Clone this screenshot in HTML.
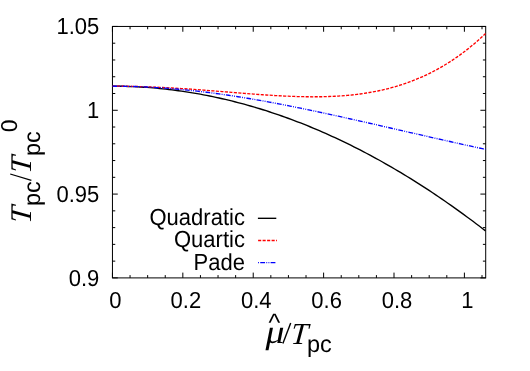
<!DOCTYPE html>
<html><head><meta charset="utf-8"><style>
html,body{margin:0;padding:0;background:#fff;}
svg{display:block;will-change:transform}
text{font-family:"Liberation Sans",sans-serif;font-size:22px;fill:#000;text-rendering:geometricPrecision}
.it{font-family:"Liberation Serif",serif;font-style:italic;font-size:30.5px}
</style></head><body>
<svg width="530" height="371" viewBox="0 0 530 371">
<rect width="530" height="371" fill="#fff"/>
<g stroke="#000" stroke-width="1" fill="none"><line x1="112.45" y1="277.9" x2="112.45" y2="272.59999999999997"/><line x1="112.45" y1="26.45" x2="112.45" y2="31.75"/><line x1="130.05" y1="277.9" x2="130.05" y2="275.09999999999997"/><line x1="130.05" y1="26.45" x2="130.05" y2="29.25"/><line x1="147.65" y1="277.9" x2="147.65" y2="275.09999999999997"/><line x1="147.65" y1="26.45" x2="147.65" y2="29.25"/><line x1="165.24" y1="277.9" x2="165.24" y2="275.09999999999997"/><line x1="165.24" y1="26.45" x2="165.24" y2="29.25"/><line x1="182.84" y1="277.9" x2="182.84" y2="272.59999999999997"/><line x1="182.84" y1="26.45" x2="182.84" y2="31.75"/><line x1="200.44" y1="277.9" x2="200.44" y2="275.09999999999997"/><line x1="200.44" y1="26.45" x2="200.44" y2="29.25"/><line x1="218.04" y1="277.9" x2="218.04" y2="275.09999999999997"/><line x1="218.04" y1="26.45" x2="218.04" y2="29.25"/><line x1="235.63" y1="277.9" x2="235.63" y2="275.09999999999997"/><line x1="235.63" y1="26.45" x2="235.63" y2="29.25"/><line x1="253.23" y1="277.9" x2="253.23" y2="272.59999999999997"/><line x1="253.23" y1="26.45" x2="253.23" y2="31.75"/><line x1="270.83" y1="277.9" x2="270.83" y2="275.09999999999997"/><line x1="270.83" y1="26.45" x2="270.83" y2="29.25"/><line x1="288.43" y1="277.9" x2="288.43" y2="275.09999999999997"/><line x1="288.43" y1="26.45" x2="288.43" y2="29.25"/><line x1="306.02" y1="277.9" x2="306.02" y2="275.09999999999997"/><line x1="306.02" y1="26.45" x2="306.02" y2="29.25"/><line x1="323.62" y1="277.9" x2="323.62" y2="272.59999999999997"/><line x1="323.62" y1="26.45" x2="323.62" y2="31.75"/><line x1="341.22" y1="277.9" x2="341.22" y2="275.09999999999997"/><line x1="341.22" y1="26.45" x2="341.22" y2="29.25"/><line x1="358.81" y1="277.9" x2="358.81" y2="275.09999999999997"/><line x1="358.81" y1="26.45" x2="358.81" y2="29.25"/><line x1="376.41" y1="277.9" x2="376.41" y2="275.09999999999997"/><line x1="376.41" y1="26.45" x2="376.41" y2="29.25"/><line x1="394.01" y1="277.9" x2="394.01" y2="272.59999999999997"/><line x1="394.01" y1="26.45" x2="394.01" y2="31.75"/><line x1="411.61" y1="277.9" x2="411.61" y2="275.09999999999997"/><line x1="411.61" y1="26.45" x2="411.61" y2="29.25"/><line x1="429.20" y1="277.9" x2="429.20" y2="275.09999999999997"/><line x1="429.20" y1="26.45" x2="429.20" y2="29.25"/><line x1="446.80" y1="277.9" x2="446.80" y2="275.09999999999997"/><line x1="446.80" y1="26.45" x2="446.80" y2="29.25"/><line x1="464.40" y1="277.9" x2="464.40" y2="272.59999999999997"/><line x1="464.40" y1="26.45" x2="464.40" y2="31.75"/><line x1="482.00" y1="277.9" x2="482.00" y2="275.09999999999997"/><line x1="482.00" y1="26.45" x2="482.00" y2="29.25"/><line x1="112.45" y1="277.90" x2="117.75" y2="277.90"/><line x1="485.7" y1="277.90" x2="480.4" y2="277.90"/><line x1="112.45" y1="261.14" x2="115.25" y2="261.14"/><line x1="485.7" y1="261.14" x2="482.9" y2="261.14"/><line x1="112.45" y1="244.37" x2="115.25" y2="244.37"/><line x1="485.7" y1="244.37" x2="482.9" y2="244.37"/><line x1="112.45" y1="227.61" x2="115.25" y2="227.61"/><line x1="485.7" y1="227.61" x2="482.9" y2="227.61"/><line x1="112.45" y1="210.85" x2="115.25" y2="210.85"/><line x1="485.7" y1="210.85" x2="482.9" y2="210.85"/><line x1="112.45" y1="194.08" x2="117.75" y2="194.08"/><line x1="485.7" y1="194.08" x2="480.4" y2="194.08"/><line x1="112.45" y1="177.32" x2="115.25" y2="177.32"/><line x1="485.7" y1="177.32" x2="482.9" y2="177.32"/><line x1="112.45" y1="160.56" x2="115.25" y2="160.56"/><line x1="485.7" y1="160.56" x2="482.9" y2="160.56"/><line x1="112.45" y1="143.79" x2="115.25" y2="143.79"/><line x1="485.7" y1="143.79" x2="482.9" y2="143.79"/><line x1="112.45" y1="127.03" x2="115.25" y2="127.03"/><line x1="485.7" y1="127.03" x2="482.9" y2="127.03"/><line x1="112.45" y1="110.27" x2="117.75" y2="110.27"/><line x1="485.7" y1="110.27" x2="480.4" y2="110.27"/><line x1="112.45" y1="93.50" x2="115.25" y2="93.50"/><line x1="485.7" y1="93.50" x2="482.9" y2="93.50"/><line x1="112.45" y1="76.74" x2="115.25" y2="76.74"/><line x1="485.7" y1="76.74" x2="482.9" y2="76.74"/><line x1="112.45" y1="59.98" x2="115.25" y2="59.98"/><line x1="485.7" y1="59.98" x2="482.9" y2="59.98"/><line x1="112.45" y1="43.21" x2="115.25" y2="43.21"/><line x1="485.7" y1="43.21" x2="482.9" y2="43.21"/><line x1="112.45" y1="26.45" x2="117.75" y2="26.45"/><line x1="485.7" y1="26.45" x2="480.4" y2="26.45"/></g>
<rect x="112.45" y="26.45" width="373.25" height="251.45" fill="none" stroke="#000" stroke-width="1.0"/>
<path d="M112.50,86.20 L115.63,86.21 L118.77,86.24 L121.90,86.29 L125.04,86.37 L128.17,86.46 L131.31,86.57 L134.44,86.70 L137.58,86.86 L140.71,87.03 L143.85,87.22 L146.98,87.44 L150.11,87.67 L153.25,87.93 L156.38,88.20 L159.52,88.50 L162.65,88.82 L165.79,89.15 L168.92,89.51 L172.06,89.89 L175.19,90.29 L178.33,90.71 L181.46,91.15 L184.60,91.61 L187.73,92.09 L190.86,92.59 L194.00,93.11 L197.13,93.65 L200.27,94.21 L203.40,94.79 L206.54,95.40 L209.67,96.02 L212.81,96.66 L215.94,97.33 L219.08,98.01 L222.21,98.72 L225.34,99.44 L228.48,100.19 L231.61,100.96 L234.75,101.74 L237.88,102.55 L241.02,103.38 L244.15,104.22 L247.29,105.09 L250.42,105.98 L253.56,106.89 L256.69,107.82 L259.82,108.77 L262.96,109.74 L266.09,110.73 L269.23,111.74 L272.36,112.78 L275.50,113.83 L278.63,114.90 L281.77,116.00 L284.90,117.11 L288.04,118.24 L291.17,119.40 L294.31,120.57 L297.44,121.77 L300.57,122.98 L303.71,124.22 L306.84,125.48 L309.98,126.75 L313.11,128.05 L316.25,129.37 L319.38,130.71 L322.52,132.07 L325.65,133.45 L328.79,134.85 L331.92,136.27 L335.05,137.71 L338.19,139.17 L341.32,140.65 L344.46,142.15 L347.59,143.67 L350.73,145.22 L353.86,146.78 L357.00,148.36 L360.13,149.97 L363.27,151.59 L366.40,153.24 L369.53,154.90 L372.67,156.59 L375.80,158.29 L378.94,160.02 L382.07,161.77 L385.21,163.54 L388.34,165.32 L391.48,167.13 L394.61,168.96 L397.75,170.81 L400.88,172.68 L404.02,174.57 L407.15,176.48 L410.28,178.41 L413.42,180.36 L416.55,182.34 L419.69,184.33 L422.82,186.34 L425.96,188.37 L429.09,190.43 L432.23,192.50 L435.36,194.60 L438.50,196.71 L441.63,198.85 L444.76,201.00 L447.90,203.18 L451.03,205.38 L454.17,207.59 L457.30,209.83 L460.44,212.09 L463.57,214.37 L466.71,216.67 L469.84,218.99 L472.98,221.32 L476.11,223.69 L479.24,226.07 L482.38,228.47 L485.51,230.89" fill="none" stroke="#000" stroke-width="1.35"/>
<path d="M112.50,86.20 L115.63,86.21 L118.77,86.22 L121.90,86.25 L125.04,86.28 L128.17,86.33 L131.31,86.39 L134.44,86.45 L137.58,86.53 L140.71,86.61 L143.85,86.71 L146.98,86.82 L150.11,86.93 L153.25,87.05 L156.38,87.19 L159.52,87.33 L162.65,87.48 L165.79,87.64 L168.92,87.81 L172.06,87.98 L175.19,88.16 L178.33,88.35 L181.46,88.55 L184.60,88.75 L187.73,88.96 L190.86,89.18 L194.00,89.40 L197.13,89.62 L200.27,89.86 L203.40,90.09 L206.54,90.33 L209.67,90.57 L212.81,90.82 L215.94,91.07 L219.08,91.32 L222.21,91.57 L225.34,91.83 L228.48,92.08 L231.61,92.34 L234.75,92.59 L237.88,92.84 L241.02,93.09 L244.15,93.34 L247.29,93.59 L250.42,93.83 L253.56,94.07 L256.69,94.30 L259.82,94.53 L262.96,94.75 L266.09,94.96 L269.23,95.17 L272.36,95.36 L275.50,95.55 L278.63,95.73 L281.77,95.90 L284.90,96.06 L288.04,96.20 L291.17,96.33 L294.31,96.45 L297.44,96.55 L300.57,96.63 L303.71,96.70 L306.84,96.75 L309.98,96.78 L313.11,96.80 L316.25,96.79 L319.38,96.76 L322.52,96.71 L325.65,96.63 L328.79,96.53 L331.92,96.41 L335.05,96.26 L338.19,96.08 L341.32,95.87 L344.46,95.63 L347.59,95.36 L350.73,95.06 L353.86,94.73 L357.00,94.36 L360.13,93.96 L363.27,93.52 L366.40,93.04 L369.53,92.53 L372.67,91.97 L375.80,91.37 L378.94,90.73 L382.07,90.05 L385.21,89.31 L388.34,88.54 L391.48,87.71 L394.61,86.84 L397.75,85.91 L400.88,84.94 L404.02,83.91 L407.15,82.82 L410.28,81.68 L413.42,80.49 L416.55,79.23 L419.69,77.91 L422.82,76.53 L425.96,75.09 L429.09,73.58 L432.23,72.01 L435.36,70.37 L438.50,68.65 L441.63,66.87 L444.76,65.02 L447.90,63.09 L451.03,61.08 L454.17,59.00 L457.30,56.84 L460.44,54.60 L463.57,52.27 L466.71,49.87 L469.84,47.37 L472.98,44.79 L476.11,42.12 L479.24,39.36 L482.38,36.51 L485.51,33.56" fill="none" stroke="#f00" stroke-width="1.35" stroke-dasharray="3.1,1.4"/>
<path d="M112.50,86.20 L115.63,86.21 L118.77,86.23 L121.90,86.26 L125.04,86.31 L128.17,86.38 L131.31,86.45 L134.44,86.54 L137.58,86.65 L140.71,86.77 L143.85,86.90 L146.98,87.04 L150.11,87.20 L153.25,87.37 L156.38,87.56 L159.52,87.76 L162.65,87.97 L165.79,88.20 L168.92,88.44 L172.06,88.69 L175.19,88.95 L178.33,89.23 L181.46,89.52 L184.60,89.82 L187.73,90.14 L190.86,90.46 L194.00,90.80 L197.13,91.15 L200.27,91.51 L203.40,91.89 L206.54,92.27 L209.67,92.67 L212.81,93.08 L215.94,93.49 L219.08,93.92 L222.21,94.36 L225.34,94.81 L228.48,95.27 L231.61,95.74 L234.75,96.22 L237.88,96.71 L241.02,97.21 L244.15,97.72 L247.29,98.23 L250.42,98.76 L253.56,99.29 L256.69,99.83 L259.82,100.38 L262.96,100.94 L266.09,101.51 L269.23,102.08 L272.36,102.66 L275.50,103.25 L278.63,103.85 L281.77,104.45 L284.90,105.06 L288.04,105.67 L291.17,106.29 L294.31,106.92 L297.44,107.55 L300.57,108.19 L303.71,108.84 L306.84,109.48 L309.98,110.14 L313.11,110.80 L316.25,111.46 L319.38,112.12 L322.52,112.80 L325.65,113.47 L328.79,114.15 L331.92,114.83 L335.05,115.52 L338.19,116.21 L341.32,116.90 L344.46,117.59 L347.59,118.29 L350.73,118.99 L353.86,119.69 L357.00,120.40 L360.13,121.10 L363.27,121.81 L366.40,122.52 L369.53,123.23 L372.67,123.94 L375.80,124.66 L378.94,125.37 L382.07,126.09 L385.21,126.80 L388.34,127.52 L391.48,128.24 L394.61,128.95 L397.75,129.67 L400.88,130.39 L404.02,131.11 L407.15,131.82 L410.28,132.54 L413.42,133.26 L416.55,133.97 L419.69,134.69 L422.82,135.40 L425.96,136.12 L429.09,136.83 L432.23,137.54 L435.36,138.25 L438.50,138.96 L441.63,139.67 L444.76,140.37 L447.90,141.08 L451.03,141.78 L454.17,142.48 L457.30,143.18 L460.44,143.88 L463.57,144.57 L466.71,145.27 L469.84,145.96 L472.98,146.65 L476.11,147.33 L479.24,148.02 L482.38,148.70 L485.51,149.38" fill="none" stroke="#00f" stroke-width="1.35" stroke-dasharray="4.8,1.25,0.9,1.25,0.9,1.25"/>
<g><text transform="translate(115.45,307.50) scale(1,1.05)" text-anchor="middle">0</text><text transform="translate(185.84,307.50) scale(1,1.05)" text-anchor="middle">0.2</text><text transform="translate(256.23,307.50) scale(1,1.05)" text-anchor="middle">0.4</text><text transform="translate(326.62,307.50) scale(1,1.05)" text-anchor="middle">0.6</text><text transform="translate(397.01,307.50) scale(1,1.05)" text-anchor="middle">0.8</text><text transform="translate(467.40,307.50) scale(1,1.05)" text-anchor="middle">1</text><text transform="translate(99.30,285.90) scale(1,1.05)" text-anchor="end">0.9</text><text transform="translate(99.30,201.88) scale(1,1.05)" text-anchor="end">0.95</text><text transform="translate(99.30,117.67) scale(1,1.05)" text-anchor="end">1</text><text transform="translate(99.30,33.85) scale(1,1.05)" text-anchor="end">1.05</text></g>
<text transform="translate(244.90,225.00) scale(1,1.06)" text-anchor="end">Quadratic</text>
<text transform="translate(244.90,247.20) scale(1,1.06)" text-anchor="end">Quartic</text>
<text transform="translate(244.90,269.50) scale(1,1.06)" text-anchor="end">Pade</text>
<line x1="257.9" y1="218.3" x2="276.3" y2="218.3" stroke="#000" stroke-width="1.35"/>
<line x1="258.1" y1="240.5" x2="277" y2="240.5" stroke="#f00" stroke-width="1.3" stroke-dasharray="3.1,1.4"/>
<line x1="258.1" y1="262.6" x2="276.5" y2="262.6" stroke="#00f" stroke-width="1.3" stroke-dasharray="4.8,1.25,0.9,1.25,0.9,1.25" stroke-dashoffset="8.2"/>
<!-- x label -->
<text transform="translate(265.5,343.2) scale(1.13,1)" class="it" style="font-size:33.5px">μ</text><text x="274.4" y="330.6" text-anchor="middle" style="font-size:25px">^</text><line x1="282.9" y1="343.4" x2="290.7" y2="323.1" stroke="#000" stroke-width="1.4"/><text transform="translate(290.3,343.6) skewX(-5)" class="it">T</text><text x="307.0" y="352.3" style="font-size:23.5px">pc</text>
<!-- y label -->
<text transform="translate(31.00,223.80) rotate(-90) skewX(-5)" class="it" style="font-size:30px">T</text><text transform="translate(39.50,206.00) rotate(-90)" style="font-size:23.5px">pc</text><line x1="10.2" y1="174.0" x2="31.4" y2="180.3" stroke="#000" stroke-width="1.3"/><text transform="translate(31.00,173.80) rotate(-90) skewX(-5)" class="it" style="font-size:30px">T</text><text transform="translate(39.50,156.00) rotate(-90)" style="font-size:23.5px">pc</text><text transform="translate(17.00,132.30) rotate(-90)" style="font-size:23px">0</text>
</svg>
</body></html>
